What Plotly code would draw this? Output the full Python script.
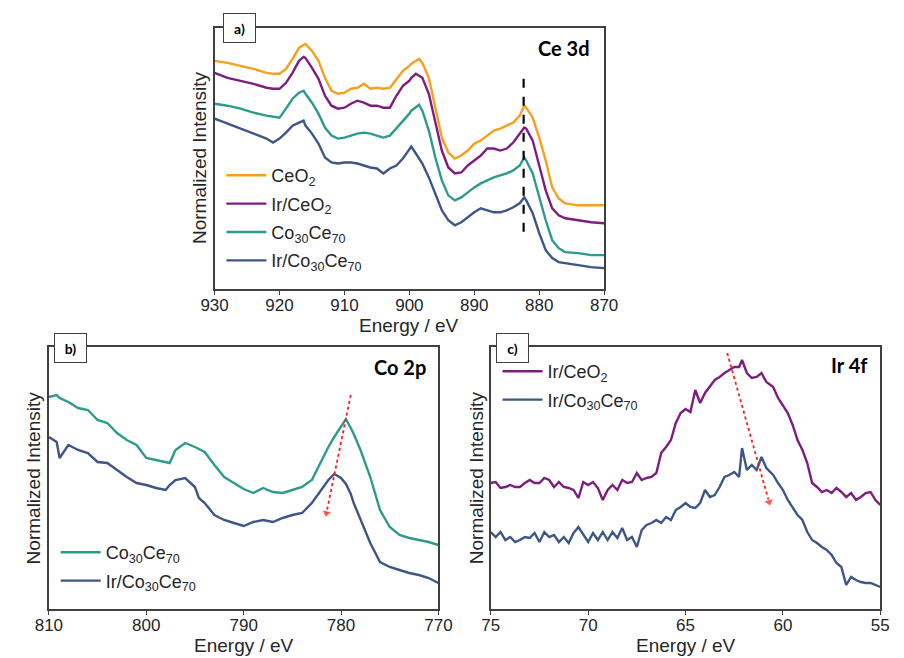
import plotly.graph_objects as go

# ---------------- Panel a) Ce 3d ----------------
ce_energy = [930, 928, 926, 924, 922, 921, 920, 919, 918, 917, 916.3, 916, 915, 914, 913, 912, 911, 910,
             909, 908, 907, 906, 905, 904, 903, 902, 901, 900, 899.7, 899, 898.5, 898, 897, 896, 895, 894,
             893, 892, 891, 890, 889, 888, 887, 886, 885, 884, 883, 882.3, 882, 881, 880, 879, 878, 877,
             876, 874, 872, 870]
ceo2 = [229, 227, 224, 221, 217, 216, 216, 221, 231, 242, 245, 246, 239, 229, 212, 199, 196, 197,
        201, 202, 206, 201, 202, 201, 202, 211, 219, 224, 226, 229, 231, 227, 212, 182, 152, 137,
        131, 134, 139, 146, 149, 154, 159, 161, 164, 167, 174, 184, 182, 172, 152, 129, 102, 91,
        86, 84, 84, 84]
ir_ceo2 = [217, 212, 209, 206, 202, 201, 201, 207, 217, 229, 233, 232, 222, 211, 194, 184, 181, 182,
           186, 189, 187, 184, 184, 182, 182, 194, 204, 209, 212, 216, 214, 212, 196, 169, 139, 122,
           116, 117, 124, 129, 134, 141, 141, 139, 141, 147, 156, 162, 161, 149, 124, 99, 81, 74,
           71, 69, 67, 66]
co30ce70 = [186, 184, 181, 177, 174, 173, 172, 181, 191, 197, 199, 196, 187, 176, 162, 154, 151, 152,
            154, 156, 157, 156, 154, 152, 154, 161, 169, 176, 179, 182, 185, 179, 159, 132, 109, 94,
            89, 92, 97, 102, 106, 109, 112, 114, 116, 119, 124, 132, 129, 116, 92, 69, 49, 41,
            37, 36, 34, 34]
ir_co30ce70 = [171, 166, 161, 156, 151, 147, 151, 157, 164, 167, 169, 164, 156, 146, 132, 127, 126, 127,
               127, 126, 124, 122, 121, 116, 121, 124, 131, 141, 143, 136, 131, 126, 112, 96, 79, 69,
               64, 67, 72, 77, 81, 79, 77, 77, 79, 82, 86, 92, 89, 76, 56, 39, 31, 27,
               26, 24, 22, 21]
ce_marker_E = [882.4, 882.4]
ce_marker_I = [211, 49]

# ---------------- Panel b) Co 2p ----------------
co_energy = [810, 809.2, 808.9, 808, 807, 806, 805, 804, 803, 802, 801, 800, 799, 798, 797.6, 797, 796,
             795, 794.6, 794, 793, 792, 791, 790, 789, 788, 787, 786, 785, 784, 783, 782, 781.3,
             780.7, 780, 779.5, 779, 778.7, 778, 777, 776, 775, 774, 773, 772, 771, 770]
co_co30ce70 = [212, 214, 211, 207, 201, 199, 189, 186, 176, 169, 164, 151, 149, 147, 146, 159, 166,
               162, 160, 157, 144, 132, 126, 120, 116, 121, 117, 116, 119, 122, 129, 149, 162,
               172, 182, 190, 181, 175, 159, 132, 99, 82, 74, 71, 69, 67, 64]
co_ir_co30ce70 = [172, 167, 151, 164, 159, 156, 147, 146, 139, 132, 126, 124, 121, 119, 124, 129, 131,
                  122, 111, 106, 94, 89, 86, 83, 87, 89, 87, 91, 94, 96, 106, 119, 129,
                  135, 131, 125, 115, 106, 89, 66, 47, 42, 39, 36, 34, 31, 26]
co_arrow_E = [779.0, 781.5]
co_arrow_I = [214, 96]

# ---------------- Panel c) Ir 4f ----------------
ir_energy = [75, 74.75, 74.5, 74.25, 74, 73.75, 73.5, 73.25, 73, 72.75, 72.5, 72.25, 72, 71.75, 71.5,
             71.25, 71, 70.75, 70.5, 70.25, 70, 69.75, 69.5, 69.25, 69, 68.75, 68.5, 68.25, 68, 67.75,
             67.5, 67.25, 67, 66.75, 66.5, 66.25, 66, 65.75, 65.5, 65.25, 65, 64.75, 64.5, 64.25, 64,
             63.75, 63.5, 63.25, 63, 62.75, 62.5, 62.25, 62.1, 61.85, 61.6, 61.35, 61.1, 60.85, 60.5,
             60.25, 60, 59.75, 59.5, 59.25, 59, 58.75, 58.5, 58.25, 58, 57.75, 57.5, 57.25, 57, 56.75,
             56.5, 56.25, 56, 55.75, 55.5, 55.25, 55]
ir_ir_ceo2 = [126, 127, 121, 122, 124, 122, 122, 126, 129, 126, 126, 131, 129, 122, 127,
              122, 121, 119, 111, 127, 124, 127, 121, 109, 119, 124, 119, 129, 126, 127,
              136, 129, 131, 132, 136, 156, 162, 169, 186, 196, 200, 197, 219, 206, 216,
              222, 229, 232, 236, 239, 242, 242, 249, 236, 231, 232, 236, 227, 222,
              211, 204, 196, 184, 169, 159, 146, 126, 122, 117, 119, 116, 121, 117, 112,
              116, 109, 112, 116, 117, 109, 104]
ir_ir_co30ce70 = [77, 72, 77, 69, 72, 67, 69, 72, 71, 76, 67, 77, 72, 74, 67,
                  72, 66, 76, 82, 74, 67, 76, 69, 77, 69, 77, 71, 81, 69, 72,
                  62, 79, 84, 86, 89, 86, 92, 89, 99, 102, 106, 102, 101, 106, 119,
                  112, 114, 122, 132, 134, 137, 132, 161, 139, 144, 139, 152, 141, 134,
                  126, 119, 109, 102, 94, 89, 77, 69, 66, 62, 59, 54, 46, 42, 24,
                  32, 29, 27, 26, 26, 24, 22]
ir_arrow_E = [62.86, 60.71]
ir_arrow_I = [256, 107]

ORANGE = "#F5A01F"
PURPLE = "#7E1D80"
TEAL = "#2E9A8D"
NAVY = "#3E5588"

fig = go.Figure()
LW = 2.4

def add_line(x, y, name, color, xa, ya, legend, group):
    fig.add_trace(go.Scatter(x=x, y=y, mode="lines", name=name, legend=legend,
                             legendgroup=group,
                             line=dict(color=color, width=LW), xaxis=xa, yaxis=ya))

add_line(ce_energy, ceo2, "CeO<sub>2</sub>", ORANGE, "x", "y", "legend", "a1")
add_line(ce_energy, ir_ceo2, "Ir/CeO<sub>2</sub>", PURPLE, "x", "y", "legend", "a2")
add_line(ce_energy, co30ce70, "Co<sub>30</sub>Ce<sub>70</sub>", TEAL, "x", "y", "legend", "a3")
add_line(ce_energy, ir_co30ce70, "Ir/Co<sub>30</sub>Ce<sub>70</sub>", NAVY, "x", "y", "legend", "a4")
fig.add_trace(go.Scatter(x=ce_marker_E, y=ce_marker_I, mode="lines", showlegend=False,
                         line=dict(color="black", width=2.2, dash="dash"), xaxis="x", yaxis="y"))

add_line(co_energy, co_co30ce70, "Co<sub>30</sub>Ce<sub>70</sub>", TEAL, "x2", "y2", "legend2", "b1")
add_line(co_energy, co_ir_co30ce70, "Ir/Co<sub>30</sub>Ce<sub>70</sub>", NAVY, "x2", "y2", "legend2", "b2")

add_line(ir_energy, ir_ir_ceo2, "Ir/CeO<sub>2</sub>", PURPLE, "x3", "y3", "legend3", "c1")
add_line(ir_energy, ir_ir_co30ce70, "Ir/Co<sub>30</sub>Ce<sub>70</sub>", NAVY, "x3", "y3", "legend3", "c2")

for xa, ya, ax, ay in [("x2", "y2", co_arrow_E, co_arrow_I), ("x3", "y3", ir_arrow_E, ir_arrow_I)]:
    fig.add_trace(go.Scatter(x=ax, y=ay, mode="lines+markers", showlegend=False,
                             line=dict(color="#FF1A1A", width=1.8, dash="dot"),
                             marker=dict(symbol=["circle", "triangle-up"], size=[0.1, 9],
                                         angleref="previous", color="#FF1A1A"),
                             xaxis=xa, yaxis=ya))

W, H = 904, 658
def px(v):
    return v / W
def py(v):
    return 1 - v / H

FONT = "Liberation Sans, Arial, sans-serif"
TXT = "#262626"
FRAME = "#404040"

def xaxis_cfg(dom, rng, dtick, anchor):
    return dict(domain=dom, range=rng, autorange=False, dtick=dtick, anchor=anchor,
                showline=True, linecolor=FRAME, linewidth=1.5, mirror=True,
                ticks="outside", ticklen=4, tickcolor=FRAME, showgrid=False, zeroline=False,
                ticklabelstandoff=-4,
                tickfont=dict(family=FONT, size=17, color=TXT))

def yaxis_cfg(dom, anchor):
    return dict(domain=dom, range=[0, 262], autorange=False, anchor=anchor,
                showline=True, linecolor=FRAME, linewidth=1.5, mirror=True,
                showticklabels=False, ticks="", showgrid=False, zeroline=False)

legfont = dict(family=FONT, size=18, color=TXT)

fig.update_layout(
    width=W, height=H, margin=dict(l=0, r=0, t=0, b=0),
    paper_bgcolor="white", plot_bgcolor="white",
    xaxis=xaxis_cfg([px(207), px(609)], [930, 870], 10, "y"),
    yaxis=yaxis_cfg([py(289), py(28)], "x"),
    xaxis2=xaxis_cfg([px(36), px(438)], [810, 770], 10, "y2"),
    yaxis2=yaxis_cfg([py(609), py(347)], "x2"),
    xaxis3=xaxis_cfg([px(492), px(894)], [75, 55], 5, "y3"),
    yaxis3=yaxis_cfg([py(609), py(347)], "x3"),
    legend=dict(x=px(214), y=py(157), xanchor="left", yanchor="top", font=legfont,
                bgcolor="rgba(0,0,0,0)", itemwidth=40, tracegroupgap=2),
    legend2=dict(x=px(43), y=py(534), xanchor="left", yanchor="top", font=legfont,
                 bgcolor="rgba(0,0,0,0)", itemwidth=40, tracegroupgap=2),
    legend3=dict(x=px(499), y=py(353), xanchor="left", yanchor="top", font=legfont,
                 bgcolor="rgba(0,0,0,0)", itemwidth=40, tracegroupgap=2),
    showlegend=True,
)

# axis titles
axis_title_font = dict(family=FONT, size=19, color=TXT)
for cx, cy in [(408, 325), (237, 645), (693, 645)]:
    fig.add_annotation(text="Energy / eV", xref="paper", yref="paper", x=px(cx), y=py(cy),
                       xanchor="center", yanchor="middle", showarrow=False, font=axis_title_font)
for cx, cy in [(192, 158), (20, 478), (477, 478)]:
    fig.add_annotation(text="Normalized Intensity", xref="paper", yref="paper", x=px(cx), y=py(cy),
                       xanchor="center", yanchor="middle", showarrow=False, textangle=-90,
                       font=axis_title_font)

label_font = dict(family="Lato, Calibri, sans-serif", size=14, color="black")
for txt, cx, cy in [("<b>a)</b>", 232.5, 28.5), ("<b>b)</b>", 58, 348), ("<b>c)</b>", 514.5, 348)]:
    fig.add_annotation(text=txt, xref="paper", yref="paper", x=px(cx), y=py(cy),
                       xanchor="center", yanchor="middle", showarrow=False,
                       width=29, height=26, bgcolor="white", bordercolor=FRAME, borderwidth=1,
                       font=label_font)

title_font = dict(family="Lato, Calibri, sans-serif", size=20, color="black")
for txt, rx, cy in [("<b>Ce 3d</b>", 596, 48), ("<b>Co 2p</b>", 427, 367), ("<b>Ir 4f</b>", 883, 365)]:
    fig.add_annotation(text=txt, xref="paper", yref="paper", x=px(rx), y=py(cy),
                       xanchor="right", yanchor="middle", showarrow=False, font=title_font)

fig.write_html("out.html")
